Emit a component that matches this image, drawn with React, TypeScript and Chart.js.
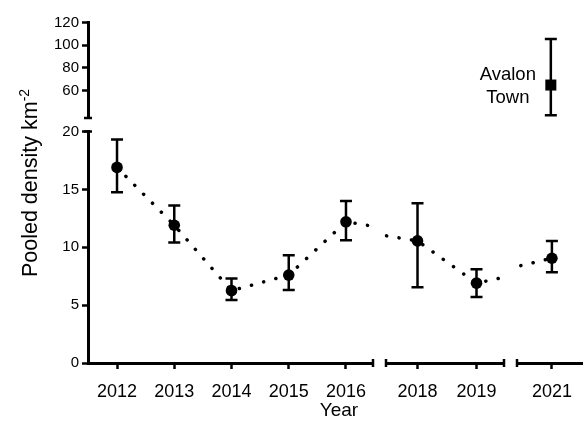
import React, { useEffect, useRef } from "react";
import { Chart, registerables } from "chart.js";

Chart.register(...registerables);

// ---------------- data ----------------
const years = [2012, 2013, 2014, 2015, 2016, 2018, 2019, 2021];
const density = [16.9, 11.9, 6.25, 7.6, 12.2, 10.55, 6.9, 9.05];
const lowerCI = [14.75, 10.4, 5.45, 6.3, 10.6, 6.55, 5.7, 7.85];
const upperCI = [19.3, 13.6, 7.3, 9.3, 14.0, 13.8, 8.1, 10.55];

const avalonYears = [2021];
const avalonDensity = [65];
const avalonLower = [38.5];
const avalonUpper = [105.5];
const avalonLabel = ["Avalon", "Town"];

const lowerAxisTicks = [0, 5, 10, 15, 20];
const upperAxisTicks = [60, 80, 100, 120];
const panelYears = [[2012, 2013, 2014, 2015, 2016], [2018, 2019], [2021]];

const yTitle = "Pooled density km";
const yTitleSup = "-2";
const xTitle = "Year";

// ---------------- layout ----------------
const W = 588;
const H = 421;
const FONT = "'Liberation Sans', Arial, Helvetica, sans-serif";
const Y_AXIS_W = 40;
const X_AXIS_H = 50;
const TOP_BAND = { top: 22.5, bottom: 118, min: 36, max: 120 };
const BOTTOM_BAND = { top: 131.5, bottom: 363, min: 0, max: 20 };
const X_PANELS = [
  { left: 88, right: 373, min: 2011.493, max: 2016.472, caps: ["right"] },
  { left: 386, right: 504, min: 2017.466, max: 2019.466, caps: ["left", "right"] },
  { left: 517, right: 588, min: 2020.333, max: 2021.579, caps: ["left"] },
];

Chart.defaults.font.family = FONT;
Chart.defaults.color = "#000";

const errorBarPlugin = (xv: number[], lo: number[], hi: number[]) => ({
  id: "errorBars",
  afterDatasetsDraw(chart: any) {
    const { ctx } = chart;
    const x = chart.scales.x;
    const y = chart.scales.y;
    ctx.save();
    ctx.strokeStyle = "#000";
    ctx.lineWidth = 2.5;
    ctx.lineCap = "butt";
    xv.forEach((v, i) => {
      if (v < x.min || v > x.max) return;
      const px = x.getPixelForValue(v);
      const pTop = y.getPixelForValue(hi[i]);
      const pBot = y.getPixelForValue(lo[i]);
      ctx.beginPath();
      ctx.moveTo(px, pTop);
      ctx.lineTo(px, pBot);
      ctx.moveTo(px - 6, pTop);
      ctx.lineTo(px + 6, pTop);
      ctx.moveTo(px - 6, pBot);
      ctx.lineTo(px + 6, pBot);
      ctx.stroke();
    });
    ctx.restore();
  },
});

const breakCapsPlugin = (caps: string[]) => ({
  id: "breakCaps",
  afterDraw(chart: any) {
    const { ctx, chartArea: a } = chart;
    ctx.save();
    ctx.strokeStyle = "#000";
    ctx.lineWidth = 2.5;
    ctx.beginPath();
    caps.forEach((c) => {
      if (c === "left") {
        ctx.moveTo(a.left, a.bottom - 4);
        ctx.lineTo(a.left, a.bottom + 4);
      }
      if (c === "right") {
        ctx.moveTo(a.right, a.bottom - 4);
        ctx.lineTo(a.right, a.bottom + 4);
      }
      if (c === "top") {
        ctx.moveTo(a.left - 4, a.top);
        ctx.lineTo(a.left + 4, a.top);
      }
      if (c === "bottom") {
        ctx.moveTo(a.left - 4, a.bottom);
        ctx.lineTo(a.left + 4, a.bottom);
      }
    });
    ctx.stroke();
    ctx.restore();
  },
});

const pointLabelPlugin = (lines: string[]) => ({
  id: "pointLabel",
  afterDatasetsDraw(chart: any) {
    const el = chart.getDatasetMeta(0).data[0];
    if (!el) return;
    const { ctx } = chart;
    ctx.save();
    ctx.font = `18.5px ${FONT}`;
    ctx.fillStyle = "#000";
    ctx.textAlign = "center";
    ctx.textBaseline = "middle";
    lines.forEach((t, i) => ctx.fillText(t, el.x - 43, el.y - 10 + i * 23));
    ctx.restore();
  },
});

type PanelCfg = {
  left: number;
  right: number;
  band: { top: number; bottom: number; min: number; max: number };
  xMin: number;
  xMax: number;
  showX: boolean;
  showY: boolean;
  xTicks: number[];
  yTicks: number[];
  datasets: any[];
  plugins: any[];
};

function buildChart(canvas: HTMLCanvasElement, p: PanelCfg) {
  const padding = {
    left: p.left - (p.showY ? Y_AXIS_W : 0),
    right: W - p.right,
    top: p.band.top,
    bottom: H - p.band.bottom - (p.showX ? X_AXIS_H : 0),
  };
  return new Chart(canvas, {
    type: "line",
    data: { datasets: p.datasets },
    plugins: p.plugins,
    options: {
      animation: false,
      responsive: false,
      maintainAspectRatio: false,
      devicePixelRatio: 1,
      events: [],
      layout: { padding },
      plugins: { legend: { display: false }, tooltip: { enabled: false } },
      scales: {
        x: {
          type: "linear",
          min: p.xMin,
          max: p.xMax,
          display: p.showX,
          afterBuildTicks: (s: any) => {
            s.ticks = p.xTicks.map((v) => ({ value: v }));
          },
          afterFit: (s: any) => {
            if (p.showX) s.height = X_AXIS_H;
          },
          grid: {
            drawOnChartArea: false,
            drawTicks: true,
            tickLength: 6,
            tickWidth: 2.5,
            tickColor: "#000",
            color: "#000",
          },
          border: { display: true, width: 3, color: "#000" },
          ticks: {
            font: { size: 18 },
            color: "#000",
            padding: 12,
            maxRotation: 0,
            autoSkip: false,
            callback: (v: any) => String(v),
          },
        },
        y: {
          type: "linear",
          min: p.band.min,
          max: p.band.max,
          display: p.showY,
          afterBuildTicks: (s: any) => {
            s.ticks = p.yTicks.map((v) => ({ value: v }));
          },
          afterFit: (s: any) => {
            if (p.showY) s.width = Y_AXIS_W;
          },
          grid: {
            drawOnChartArea: false,
            drawTicks: true,
            tickLength: 6,
            tickWidth: 2.5,
            tickColor: "#000",
            color: "#000",
          },
          border: { display: true, width: 3, color: "#000" },
          ticks: {
            font: { size: 15 },
            color: "#000",
            padding: 3,
            autoSkip: false,
            callback: (v: any) => String(v),
          },
        },
      },
    } as any,
  });
}

const mainLine = () => ({
  type: "line",
  data: years.map((yr, i) => ({ x: yr, y: density[i] })),
  borderColor: "#000",
  borderWidth: 3.5,
  borderDash: [0.1, 12.5],
  borderCapStyle: "round",
  pointRadius: 5.8,
  pointStyle: "circle",
  pointBackgroundColor: "#000",
  pointBorderWidth: 0,
  tension: 0,
  fill: false,
  clip: 4,
});

export default function App() {
  const refs = [
    useRef<HTMLCanvasElement>(null),
    useRef<HTMLCanvasElement>(null),
    useRef<HTMLCanvasElement>(null),
    useRef<HTMLCanvasElement>(null),
    useRef<HTMLCanvasElement>(null),
  ];

  useEffect(() => {
    const charts: Chart[] = [];
    // bottom panels
    X_PANELS.forEach((xp, k) => {
      charts.push(
        buildChart(refs[k].current!, {
          left: xp.left,
          right: xp.right,
          band: BOTTOM_BAND,
          xMin: xp.min,
          xMax: xp.max,
          showX: true,
          showY: k === 0,
          xTicks: panelYears[k],
          yTicks: lowerAxisTicks,
          datasets: [mainLine()],
          plugins: [
            errorBarPlugin(years, lowerCI, upperCI),
            breakCapsPlugin(k === 0 ? [...xp.caps, "top"] : xp.caps),
          ],
        })
      );
    });
    // top-left: upper y axis only
    charts.push(
      buildChart(refs[3].current!, {
        left: X_PANELS[0].left,
        right: X_PANELS[0].left + 12,
        band: TOP_BAND,
        xMin: 0,
        xMax: 1,
        showX: false,
        showY: true,
        xTicks: [],
        yTicks: upperAxisTicks,
        datasets: [],
        plugins: [breakCapsPlugin(["bottom"])],
      })
    );
    // top-right: Avalon Town
    const xp3 = X_PANELS[2];
    charts.push(
      buildChart(refs[4].current!, {
        left: xp3.left,
        right: xp3.right,
        band: TOP_BAND,
        xMin: xp3.min,
        xMax: xp3.max,
        showX: false,
        showY: false,
        xTicks: [],
        yTicks: upperAxisTicks,
        datasets: [
          {
            type: "line",
            data: avalonYears.map((yr, i) => ({ x: yr, y: avalonDensity[i] })),
            showLine: false,
            pointStyle: "rect",
            pointRadius: 7.8,
            pointBackgroundColor: "#000",
            pointBorderWidth: 0,
            clip: false,
          },
        ],
        plugins: [
          errorBarPlugin(avalonYears, avalonLower, avalonUpper),
          pointLabelPlugin(avalonLabel),
        ],
      })
    );
    return () => charts.forEach((c) => c.destroy());
  }, []);

  return (
    <div
      style={{
        position: "fixed",
        left: 0,
        top: 0,
        width: W,
        height: H,
        background: "#fff",
        overflow: "hidden",
        fontFamily: FONT,
        color: "#000",
      }}
    >
      {refs.map((r, i) => (
        <canvas
          key={i}
          ref={r}
          width={W}
          height={H}
          style={{ position: "absolute", left: 0, top: 0, width: W, height: H }}
        />
      ))}
      <div
        style={{
          position: "absolute",
          left: 30 - 150,
          top: 182.5 - 12,
          width: 300,
          height: 24,
          lineHeight: "24px",
          fontSize: 21.5,
          textAlign: "center",
          whiteSpace: "nowrap",
          transform: "rotate(-90deg)",
        }}
      >
        {yTitle}
        <span style={{ fontSize: "0.65em", position: "relative", top: "-0.6em" }}>{yTitleSup}</span>
      </div>
      <div
        style={{
          position: "absolute",
          left: 339 - 60,
          top: 400,
          width: 120,
          lineHeight: "19px",
          fontSize: 19,
          textAlign: "center",
        }}
      >
        {xTitle}
      </div>
    </div>
  );
}
